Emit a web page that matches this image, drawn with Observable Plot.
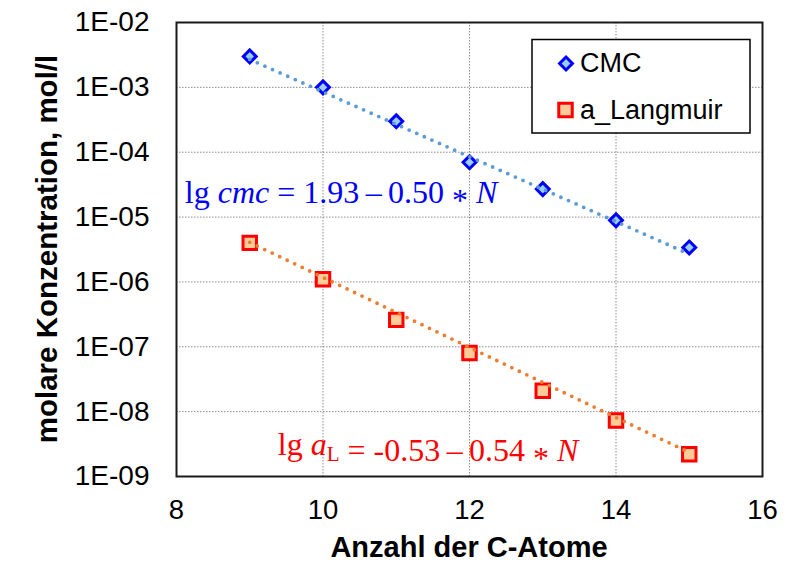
<!DOCTYPE html>
<html>
<head>
<meta charset="utf-8">
<script src="https://cdn.jsdelivr.net/npm/d3@7"></script>
<script src="https://cdn.jsdelivr.net/npm/@observablehq/plot@0.6"></script>
<style>
  body { margin: 0; background: #fff; }
  #chart { position: relative; width: 792px; height: 563px; }
  #chart svg { font-family: Arial, "Liberation Sans", sans-serif; }
</style>
</head>
<body>
<div id="chart"></div>
<script>
// Number of carbon atoms in the alkyl chain
const carbonAtoms = [9, 10, 11, 12, 13, 14, 15];
// Critical micelle concentration, mol/l
const cmcValues = [3.0e-3, 1.0e-3, 3.0e-4, 7.0e-5, 2.7e-5, 8.9e-6, 3.4e-6];
// Langmuir constant a_L, mol/l
const langmuirValues = [4.0e-6, 1.1e-6, 2.6e-7, 8.0e-8, 2.1e-8, 7.3e-9, 2.2e-9];
const seriesNames = ["CMC", "a_Langmuir"];
// Linear fits of lg(c) against N
const fitIntercepts = [1.93, -0.53];
const fitSlopes = [-0.50, -0.54];
const xTicks = [8, 10, 12, 14, 16];
const yTicks = [1e-2, 1e-3, 1e-4, 1e-5, 1e-6, 1e-7, 1e-8, 1e-9];

(function () {
const cmcData = carbonAtoms.map((n, i) => ({n, c: cmcValues[i]}));
const langData = carbonAtoms.map((n, i) => ({n, c: langmuirValues[i]}));
const nRange = [d3.min(carbonAtoms), d3.max(carbonAtoms)];
const fitLine = (k) => nRange.map(n => ({n, c: Math.pow(10, fitIntercepts[k] + fitSlopes[k] * n)}));

const style = {
  cmc: {stroke: "#0000FF", fill: "#99CCFF", trend: "#5B9BD5", r: 5.8, sw: 3},
  lang: {stroke: "#FF0000", fill: "#FFCC99", trend: "#ED7D31", r: 7.6, sw: 3}
};

const expLabel = (d) => "1E-" + String(Math.round(-Math.log10(d))).padStart(2, "0");

const chart = Plot.plot({
  width: 792,
  height: 563,
  marginLeft: 176,
  marginRight: 30,
  marginTop: 22,
  marginBottom: 87,
  style: {fontFamily: "Arial, 'Liberation Sans', sans-serif", background: "#fff"},
  x: {domain: [8, 16]},
  y: {type: "log", domain: [1e-9, 1e-2]},
  marks: [
    Plot.gridX([10, 12, 14], {stroke: "#8c8c8c", strokeOpacity: 1, strokeDasharray: "1.5,1.5"}),
    Plot.gridY(yTicks.slice(1, -1), {stroke: "#8c8c8c", strokeOpacity: 1, strokeDasharray: "1.5,1.5"}),
    Plot.frame({stroke: "#1a1a1a", strokeWidth: 2}),
    Plot.axisX({ticks: xTicks, tickSize: 0, tickPadding: 23, fontSize: 27.5, label: null, tickFormat: d => String(d), fill: "#000"}),
    Plot.axisY({ticks: yTicks, tickSize: 0, tickPadding: 27, fontSize: 28, label: null, tickFormat: expLabel, fill: "#000"}),
    Plot.dot(cmcData, {x: "n", y: "c", symbol: "diamond2", r: style.cmc.r, stroke: style.cmc.stroke, fill: style.cmc.fill, strokeWidth: style.cmc.sw}),
    Plot.dot(langData, {x: "n", y: "c", symbol: "square", r: style.lang.r, stroke: style.lang.stroke, fill: style.lang.fill, strokeWidth: style.lang.sw}),
    Plot.line(fitLine(0), {x: "n", y: "c", stroke: style.cmc.trend, strokeWidth: 3.8, strokeDasharray: "0,8.3", strokeLinecap: "round"}),
    Plot.line(fitLine(1), {x: "n", y: "c", stroke: style.lang.trend, strokeWidth: 3.8, strokeDasharray: "0,8.3", strokeLinecap: "round"})
  ]
});

document.getElementById("chart").appendChild(chart);

const svg = d3.select(chart);
const xs = chart.scale("x"), ys = chart.scale("y");
const plotLeft = xs.range[0], plotRight = xs.range[1];
const plotBottom = ys.range[0], plotTop = ys.range[1];

// Axis titles
svg.append("text")
  .attr("x", (plotLeft + plotRight) / 2).attr("y", plotBottom + 81)
  .attr("text-anchor", "middle")
  .attr("font-size", 29).attr("font-weight", "bold").attr("fill", "#000")
  .text("Anzahl der C-Atome");
svg.append("text")
  .attr("transform", `translate(57,${(plotTop + plotBottom) / 2}) rotate(-90)`)
  .attr("text-anchor", "middle")
  .attr("font-size", 29.5).attr("font-weight", "bold").attr("fill", "#000")
  .text("molare Konzentration, mol/l");

// Fit equations (the asterisk is lowered to the math axis)
const fmt = (v) => v.toFixed(2);
const thin = "\u2009";
function equation(x, y, color, k, symbolParts) {
  const t = svg.append("text")
    .attr("x", x).attr("y", y)
    .attr("text-anchor", "start")
    .attr("font-family", "'Liberation Serif', 'Times New Roman', serif")
    .attr("font-size", 32).attr("fill", color);
  t.append("tspan").text("lg ");
  symbolParts(t);
  t.append("tspan").text(` = ${fmt(fitIntercepts[k])}${thin}\u2013${thin}${fmt(-fitSlopes[k])} `);
  t.append("tspan").attr("dy", 8).text("*");
  t.append("tspan").attr("dy", -8).text(" ");
  t.append("tspan").attr("font-style", "italic").text("N");
}
equation(xs.apply(8.12), ys.apply(Math.pow(10, -4.79)), "#0000FF", 0, t => {
  t.append("tspan").attr("font-style", "italic").text("cmc");
});
equation(xs.apply(9.39), ys.apply(Math.pow(10, -8.676)), "#FF0000", 1, t => {
  t.append("tspan").attr("font-style", "italic").text("a");
  t.append("tspan").attr("font-size", 21).attr("dy", 6).text("L");
  t.append("tspan").attr("dy", -6).text("");
});

// Legend
const lg = svg.append("g").attr("text-anchor", "start");
lg.append("rect").attr("x", 532).attr("y", 39.5).attr("width", 218).attr("height", 93.5)
  .attr("fill", "#fff").attr("stroke", "#000").attr("stroke-width", 1.5);
lg.append("path").attr("transform", "translate(566,63.5)")
  .attr("d", d3.symbol(d3.symbolDiamond2, Math.PI * style.cmc.r ** 2)())
  .attr("fill", style.cmc.fill).attr("stroke", style.cmc.stroke).attr("stroke-width", style.cmc.sw);
lg.append("path").attr("transform", "translate(565.5,110)")
  .attr("d", d3.symbol(d3.symbolSquare, Math.PI * style.lang.r ** 2)())
  .attr("fill", style.lang.fill).attr("stroke", style.lang.stroke).attr("stroke-width", style.lang.sw);
seriesNames.forEach((name, i) => {
  lg.append("text").attr("x", 580).attr("y", [72, 118.5][i])
    .attr("font-size", 27).attr("fill", "#000").text(name);
});
})();
</script>
</body>
</html>
